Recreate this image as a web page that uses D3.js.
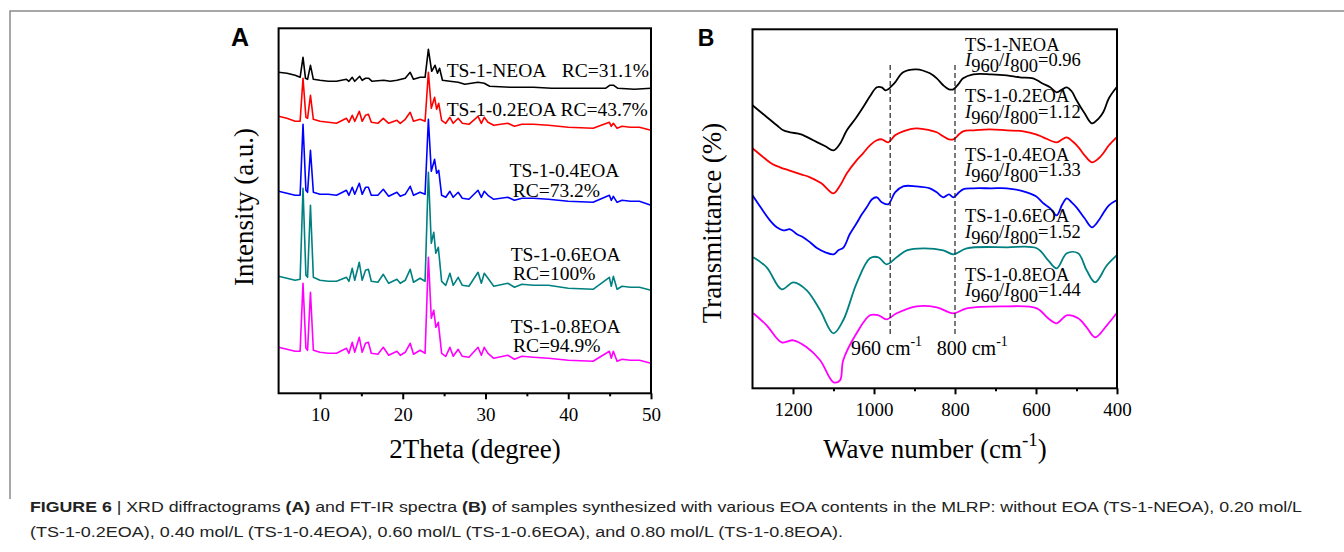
<!DOCTYPE html>
<html>
<head>
<meta charset="utf-8">
<script src="https://cdn.jsdelivr.net/npm/d3@7"></script>
<style>
  body { margin: 0; background: #fff; }
  svg { display: block; }
</style>
</head>
<body>
<svg width="1344" height="552"></svg>
<script>
// XRD patterns, [2theta, intensity (a.u., stacked)]
const xrdNEOA = [[5,321],[6,320],[7,318],[7.6,316],[7.95,336],[8.25,315],[8.5,314],[8.85,328],[9.2,314],[10,313],[11,312],[12,312],[13.2,314],[13.5,312],[13.9,316],[14.2,312],[14.8,317],[15.1,313],[15.5,315],[15.9,315],[16.3,312],[17.7,313],[18.5,312],[19.3,313],[20.3,315],[20.9,321],[21.3,314],[22.1,316],[22.7,316],[23.1,344],[23.5,322],[23.9,328],[24.2,320],[24.45,325],[24.8,313],[25.7,312],[26.7,311],[27.5,309],[29.1,311],[29.85,310],[30.5,307],[33,306],[35.8,306],[38,305],[42,305],[44.5,305],[45,308],[45.5,308],[46,305],[48,304],[50,305]]
const xrd02 = [[5,277],[6,275],[7,272],[7.6,272],[7.95,315],[8.3,276],[8.5,275],[8.85,298],[9.2,274],[10,272],[11,271],[12,270],[13.2,275],[13.5,271],[13.9,278],[14.2,272],[14.75,282],[15.1,272],[15.5,278],[15.85,279],[16.2,271],[17,270],[17.65,275],[18.3,270],[19.3,273],[19.7,270],[20.3,274],[20.9,281],[21.3,272],[22.1,274],[22.7,272],[23.1,321],[23.45,285],[23.85,296],[24.1,284],[24.35,290],[24.7,273],[25.2,270],[25.7,276],[26.1,270],[26.7,275],[27.2,270],[28,269],[29.1,277],[29.5,270],[29.85,276],[30.3,271],[31,268],[32.7,270],[33.5,267],[34.4,269],[35.8,269],[37.6,268],[40,266],[43,265],[44.97,271],[45.2,267],[45.45,270],[45.9,265],[46.5,267],[47.5,266],[48.6,266],[50,263]]
const xrd04 = [[5,202],[6,200],[7,198],[7.6,198],[7.95,269],[8.3,203],[8.5,201],[8.85,243],[9.2,201],[10,199],[11,199],[12,198],[13.2,203],[13.5,198],[13.9,206],[14.2,199],[14.75,210],[15.1,199],[15.5,206],[15.85,206],[16.2,198],[17,198],[17.65,204],[18.3,197],[19.3,201],[19.7,197],[20.3,199],[20.9,207],[21.3,198],[22.1,201],[22.7,199],[23.1,274],[23.45,222],[23.85,234],[24.1,220],[24.35,223],[24.7,198],[25.2,196],[25.7,202],[26.1,196],[26.7,201],[27.2,195],[28,194],[29.1,203],[29.5,196],[29.85,202],[30.3,198],[31,194],[32.7,196],[33.5,193],[34.4,195],[35.8,195],[37.6,194],[40,192],[43,191],[44.97,198],[45.2,193],[45.45,197],[45.9,191],[46.5,193],[47.5,192],[48.6,192],[50,188]]
const xrd06 = [[5,117],[6,115],[7,113],[7.6,114],[7.95,205],[8.3,118],[8.5,116],[8.85,188],[9.2,116],[10,113],[11,112],[12,112],[13.2,116],[13.5,112],[13.9,125],[14.2,113],[14.75,131],[15.1,113],[15.5,123],[15.85,124],[16.2,112],[17,111],[17.65,119],[18.3,110],[19.3,114],[19.7,110],[20.3,113],[20.9,124],[21.3,111],[22.1,115],[22.7,112],[23.1,221],[23.45,150],[23.75,161],[24,140],[24.3,146],[24.7,112],[25.2,108],[25.7,120],[26.1,108],[26.7,116],[27.2,108],[28,107],[29.1,121],[29.5,110],[29.85,120],[30.3,115],[31,107],[32.7,110],[33.5,106],[34.4,109],[35.8,108],[37.6,108],[40,105],[43,104],[44.97,116],[45.2,107],[45.45,117],[45.9,104],[46.5,107],[47.5,106],[48.6,106],[50,103]]
const xrd08 = [[5,46],[6,44],[7,42],[7.6,42],[7.95,110],[8.3,45],[8.5,43],[8.85,101],[9.2,43],[10,41],[11,40],[12,40],[13.2,45],[13.5,40],[13.9,51],[14.2,41],[14.75,56],[15.1,41],[15.5,50],[15.85,51],[16.2,40],[17,39],[17.65,46],[18.3,38],[19.3,42],[19.7,38],[20.3,41],[20.9,50],[21.3,39],[22.1,43],[22.7,40],[23.1,136],[23.45,75],[23.75,83],[24,66],[24.3,71],[24.7,40],[25.2,37],[25.7,46],[26.1,37],[26.7,44],[27.2,37],[28,36],[29.1,46],[29.5,38],[29.85,46],[30.3,40],[31,35],[32.7,38],[33.5,34],[34.4,37],[35.8,36],[37.6,35],[40,33],[43,32],[44.97,42],[45.2,35],[45.45,42],[45.9,32],[46.5,34],[47.5,33],[48.6,33],[50,30]]

// FT-IR spectra, [wave number, transmittance (stacked)]
const irNEOA = [[1300,283],[1270,273],[1240,263],[1224,258],[1207,256],[1180,254],[1150,248],[1120,242],[1100,238],[1085,244],[1067,258],[1045,270],[1027,281],[1010,292],[993,301],[981,301],[972,298],[965,299],[955,303],[948,306],[928,316],[895,319],[862,315],[845,310],[829,303],[815,299],[804,299],[790,305],[780,310],[755,314],[710,314],[672,313],[640,311],[607,310],[585,305],[565,301],[549,296],[535,299],[524,301],[512,297],[500,288],[480,275],[462,265],[445,270],[434,276],[420,290],[401,301]]
const ir02 = [[1300,240],[1270,230],[1250,224],[1232,221],[1210,218],[1180,214],[1158,211],[1130,205],[1100,195],[1085,202],[1067,215],[1043,228],[1027,235],[1010,243],[993,248],[981,249],[965,246],[948,253],[928,257],[895,260],[862,258],[845,256],[829,252],[815,249],[804,249],[790,254],[780,257],[755,258],[714,259],[672,258],[631,257],[600,254],[582,251],[549,246],[535,249],[524,251],[510,247],[495,241],[480,233],[462,226],[445,230],[434,235],[420,243],[401,251]]
const ir04 = [[1300,193],[1280,181],[1257,168],[1240,161],[1224,158],[1207,159],[1190,154],[1175,151],[1158,146],[1140,140],[1120,136],[1100,134],[1088,138],[1075,141],[1060,154],[1043,165],[1030,174],[1018,181],[1005,189],[993,191],[981,186],[965,184],[948,196],[928,202],[895,202],[862,200],[845,196],[829,191],[815,194],[804,191],[790,196],[780,199],[755,200],[710,200],[672,200],[631,197],[600,192],[582,185],[565,180],[549,173],[535,184],[524,190],[512,186],[500,181],[480,170],[462,161],[445,168],[434,175],[420,183],[401,188]]
const ir06 = [[1298,131],[1265,121],[1228,99],[1199,106],[1166,98],[1133,78],[1100,55],[1076,68],[1043,105],[1010,130],[989,131],[969,124],[944,131],[919,138],[878,140],[829,138],[804,134],[771,140],[672,141],[598,140],[570,128],[549,120],[524,135],[496,135],[475,118],[454,106],[425,123],[401,133]]
const ir08 = [[1298,75],[1265,63],[1228,46],[1199,48],[1166,41],[1133,28],[1100,6],[1084,8],[1076,28],[1043,55],[1010,73],[989,73],[969,69],[944,75],[895,82],[845,81],[804,75],[771,80],[672,82],[598,80],[570,70],[549,65],[524,73],[496,70],[475,61],[454,51],[425,63],[401,75]]

const sampleNames = ["TS-1-NEOA", "TS-1-0.2EOA", "TS-1-0.4EOA", "TS-1-0.6EOA", "TS-1-0.8EOA"]
const rcValues = ["31.1%", "43.7%", "73.2%", "100%", "94.9%"]
const ratioValues = ["0.96", "1.12", "1.33", "1.52", "1.44"]
const colors = ["#000000", "#ff0000", "#0000ff", "#008080", "#ff00ff"]
const xrdTicks = [10, 20, 30, 40, 50]
const xrdMinor = [15, 25, 35, 45]
const irTicks = [1200, 1000, 800, 600, 400]
const irMinor = [1100, 900, 700, 500]
const markLines = [960, 800]

const svg = d3.select("svg")
const serif = "'Liberation Serif', 'Times New Roman', serif"

// outer figure frame
svg.append("path")
    .attr("d", "M10,499 L10,11 L1344,11")
    .attr("fill", "none")
    .attr("stroke", "#8a8a8a")
    .attr("stroke-width", 1.5)

// ---------- Panel A ----------
const xA = d3.scaleLinear().domain([5, 50]).range([278.6, 651])
const yA = d3.scaleLinear().domain([0, 365]).range([393.3, 28.3])

const gA = svg.append("g")
const lineA = d3.line().x(d => xA(d[0])).y(d => yA(d[1]))
const xrdSeries = [xrdNEOA, xrd02, xrd04, xrd06, xrd08]
// draw bottom series first so upper patterns stay on top
for (let i = xrdSeries.length - 1; i >= 0; i--) {
    gA.append("path").datum(xrdSeries[i])
        .attr("d", lineA)
        .attr("fill", "none")
        .attr("stroke", colors[i])
        .attr("stroke-width", 1.6)
        .attr("stroke-linejoin", "round")
}

gA.append("rect")
    .attr("x", xA(5)).attr("y", yA(365))
    .attr("width", xA(50) - xA(5)).attr("height", yA(0) - yA(365))
    .attr("fill", "none").attr("stroke", "#000").attr("stroke-width", 2)

const axA = gA.append("g").attr("transform", `translate(0,${yA(0)})`)
    .call(d3.axisBottom(xA).tickValues(xrdTicks).tickSize(6).tickSizeOuter(0).tickPadding(8).tickFormat(d3.format("d")))
axA.select(".domain").remove()
axA.selectAll("line").attr("stroke-width", 2)
axA.selectAll("text").attr("font-family", serif).attr("font-size", 19).attr("fill", "#000")
const axAm = gA.append("g").attr("transform", `translate(0,${yA(0)})`)
    .call(d3.axisBottom(xA).tickValues(xrdMinor).tickSize(3).tickFormat(""))
axAm.select(".domain").remove()
axAm.selectAll("line").attr("stroke-width", 2)

gA.append("text").attr("x", 475).attr("y", 458)
    .attr("text-anchor", "middle").attr("font-family", serif).attr("font-size", 27)
    .text("2Theta (degree)")
gA.append("text").attr("transform", "translate(253,207) rotate(-90)")
    .attr("text-anchor", "middle").attr("font-family", serif).attr("font-size", 27)
    .text("Intensity (a.u.)")
gA.append("text").attr("x", 240).attr("y", 46).attr("text-anchor", "middle")
    .attr("font-family", "'Liberation Sans', Arial, sans-serif").attr("font-weight", "bold")
    .attr("font-size", 25).text("A")

// sample labels, panel A
const labA = [
    { t: sampleNames[0], x: 446.7, y: 76.5, rc: "RC=" + rcValues[0], rx: 561.7, ry: 76.5 },
    { t: sampleNames[1] + " RC=" + rcValues[1], x: 446.7, y: 115.5 },
    { t: sampleNames[2], x: 509.5, y: 176.7, rc: "RC=" + rcValues[2], rx: 512.7, ry: 196.7 },
    { t: sampleNames[3], x: 510.7, y: 261, rc: "RC=" + rcValues[3], rx: 513, ry: 279.5 },
    { t: sampleNames[4], x: 510.7, y: 333, rc: "RC=" + rcValues[4], rx: 513, ry: 352 }
]
labA.forEach(d => {
    gA.append("text").attr("x", d.x).attr("y", d.y)
        .attr("font-family", serif).attr("font-size", 19.5).text(d.t)
    if (d.rc) gA.append("text").attr("x", d.rx).attr("y", d.ry)
        .attr("font-family", serif).attr("font-size", 19.5).text(d.rc)
})

// ---------- Panel B ----------
const xB = d3.scaleLinear().domain([1300, 400]).range([752.5, 1117])
const yB = d3.scaleLinear().domain([0, 359]).range([388.3, 29.3])

const gB = svg.append("g")
const lineB = d3.line().x(d => xB(d[0])).y(d => yB(d[1])).curve(d3.curveCatmullRom.alpha(0.5))
const irSeries = [irNEOA, ir02, ir04, ir06, ir08]
irSeries.forEach((s, i) => {
    gB.append("path").datum(s)
        .attr("d", lineB)
        .attr("fill", "none")
        .attr("stroke", colors[i])
        .attr("stroke-width", 1.8)
})

markLines.forEach(w => {
    gB.append("line")
        .attr("x1", xB(w)).attr("x2", xB(w))
        .attr("y1", 65).attr("y2", 337)
        .attr("stroke", "#222").attr("stroke-width", 1.2)
        .attr("stroke-dasharray", "5,3")
})
const markLab = [{ w: "960", x: 851 }, { w: "800", x: 936.7 }]
markLab.forEach(d => {
    const t = gB.append("text").attr("x", d.x).attr("y", 355)
        .attr("font-family", serif).attr("font-size", 20)
    t.append("tspan").text(d.w + " cm")
    t.append("tspan").attr("font-size", 14).attr("dy", -9).text("-1")
})

gB.append("rect")
    .attr("x", xB(1300)).attr("y", yB(359))
    .attr("width", xB(400) - xB(1300)).attr("height", yB(0) - yB(359))
    .attr("fill", "none").attr("stroke", "#000").attr("stroke-width", 2)

const axB = gB.append("g").attr("transform", `translate(0,${yB(0)})`)
    .call(d3.axisBottom(xB).tickValues(irTicks).tickSize(6).tickSizeOuter(0).tickPadding(8).tickFormat(d3.format("d")))
axB.select(".domain").remove()
axB.selectAll("line").attr("stroke-width", 2)
axB.selectAll("text").attr("font-family", serif).attr("font-size", 19).attr("fill", "#000")
const axBm = gB.append("g").attr("transform", `translate(0,${yB(0)})`)
    .call(d3.axisBottom(xB).tickValues(irMinor).tickSize(3).tickFormat(""))
axBm.select(".domain").remove()
axBm.selectAll("line").attr("stroke-width", 2)

const xtB = gB.append("text").attr("x", 935).attr("y", 458)
    .attr("text-anchor", "middle").attr("font-family", serif).attr("font-size", 27)
xtB.append("tspan").text("Wave number (cm")
xtB.append("tspan").attr("font-size", 19).attr("dy", -12).text("-1")
xtB.append("tspan").attr("dy", 12).text(")")
gB.append("text").attr("transform", "translate(721,223) rotate(-90)")
    .attr("text-anchor", "middle").attr("font-family", serif).attr("font-size", 27)
    .text("Transmittance (%)")
gB.append("text").attr("x", 706).attr("y", 46).attr("text-anchor", "middle")
    .attr("font-family", "'Liberation Sans', Arial, sans-serif").attr("font-weight", "bold")
    .attr("font-size", 23).text("B")

// sample labels, panel B (name line and intensity-ratio line)
const labBy = [50.5, 102.3, 160.7, 222.3, 280.7]
labBy.forEach((y, i) => {
    gB.append("text").attr("x", 965).attr("y", y)
        .attr("font-family", serif).attr("font-size", 18.5).text(sampleNames[i])
    const r = gB.append("text").attr("x", 965).attr("y", y + 15.5)
        .attr("font-family", serif).attr("font-size", 18.5)
    r.append("tspan").attr("font-style", "italic").text("I")
    r.append("tspan").attr("dy", 6).text("960")
    r.append("tspan").attr("dy", -6).text("/")
    r.append("tspan").attr("font-style", "italic").text("I")
    r.append("tspan").attr("dy", 6).text("800")
    r.append("tspan").attr("dy", -6).text("=" + ratioValues[i])
})

// ---------- Caption ----------
const capFont = "'Liberation Sans Narrow', 'Arial Narrow', 'Liberation Sans', sans-serif"
const cap1 = svg.append("text").attr("x", 30).attr("y", 512)
    .attr("font-family", capFont).attr("font-size", 15.5).attr("fill", "#222")
    .attr("textLength", 1272).attr("lengthAdjust", "spacingAndGlyphs")
cap1.append("tspan").attr("font-weight", "bold").text("FIGURE 6")
cap1.append("tspan").text(" | XRD diffractograms ")
cap1.append("tspan").attr("font-weight", "bold").text("(A)")
cap1.append("tspan").text(" and FT-IR spectra ")
cap1.append("tspan").attr("font-weight", "bold").text("(B)")
cap1.append("tspan").text(" of samples synthesized with various EOA contents in the MLRP: without EOA (TS-1-NEOA), 0.20 mol/L")
svg.append("text").attr("x", 30).attr("y", 537)
    .attr("font-family", capFont).attr("font-size", 15.5).attr("fill", "#222")
    .attr("textLength", 813).attr("lengthAdjust", "spacingAndGlyphs")
    .text("(TS-1-0.2EOA), 0.40 mol/L (TS-1-0.4EOA), 0.60 mol/L (TS-1-0.6EOA), and 0.80 mol/L (TS-1-0.8EOA).")
</script>
</body>
</html>
